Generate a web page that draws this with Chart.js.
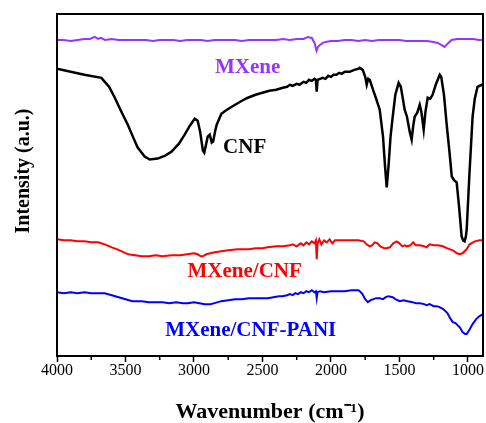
<!DOCTYPE html>
<html>
<head>
<meta charset="utf-8">
<script src="https://cdn.jsdelivr.net/npm/chart.js@4"></script>
<style>
  html, body { margin: 0; padding: 0; background: #fff; }
  #wrap { width: 486px; height: 423px; position: relative; }
</style>
</head>
<body>
<div id="wrap"><canvas id="chart"></canvas></div>
<script>
// FTIR spectra, values (arbitrary intensity units)
const mxeneWn = [4000,3950,3900,3850,3800,3760,3725,3700,3680,3650,3600,3550,3500,3450,3400,3350,3300,3250,3200,3150,3100,3050,3000,2950,2900,2850,2800,2750,2700,2650,2600,2550,2500,2450,2400,2350,2300,2250,2200,2168,2140,2120,2105,2095,2080,2060,2040,2000,1950,1900,1850,1800,1750,1700,1650,1600,1550,1500,1450,1400,1350,1300,1250,1220,1195,1170,1150,1120,1080,1040,1000,960,920,890];
const mxeneVal = [317,317,316,317,318,318,320,318,319,317,318,317,317,317,317,317,316,317,317,317,316,317,317,317,316,317,317,317,317,316,317,317,317,317,317,318,317,318,318,320,319,314,306,310,312,314,315,316,316,317,317,316,317,316,317,317,317,317,316,316,316,316,315,314,312,310,313,317,318,318,318,318,317,317];

const cnfWn = [4000,3900,3800,3676,3620,3578,3530,3483,3440,3411,3360,3323,3265,3210,3163,3110,3068,3030,2995,2973,2955,2935,2925,2912,2900,2885,2870,2860,2845,2834,2800,2760,2700,2650,2607,2550,2500,2450,2400,2352,2320,2300,2280,2250,2230,2200,2180,2160,2140,2120,2110,2104,2098,2080,2060,2040,2020,2000,1980,1960,1940,1920,1900,1863,1830,1800,1790,1768,1750,1739,1728,1717,1690,1670,1644,1620,1605,1593,1580,1565,1549,1530,1506,1490,1475,1462,1445,1425,1411,1400,1389,1370,1352,1340,1323,1310,1294,1275,1258,1235,1206,1195,1175,1155,1135,1118,1100,1082,1065,1046,1035,1024,1015,1009,990,966,950,930,900,890];
const cnfVal = [288,285,282,279,270,259,245,232,218,209,200,197,198,201,205,213,222,231,238,236,225,206,204,212,220,222,214,215,226,232,243,247,252,256,259,262,264,266,267,269,270,272,271,273,272,275,274,277,276,278,277,265,277,278,279,278,281,280,282,282,284,283,285,285,287,288,289,287,280,272,278,277,266,258,247,220,190,169,190,220,240,262,274,270,258,247,240,225,217,230,240,244,252,245,227,245,259,258,262,272,282,280,262,232,205,180,176,174,150,120,116,115,120,127,180,240,258,270,272,271];

const mcWn = [4000,3950,3900,3850,3800,3750,3700,3651,3600,3560,3527,3480,3430,3381,3330,3280,3230,3163,3100,3050,3000,2973,2950,2936,2910,2880,2849,2800,2750,2681,2600,2550,2500,2462,2400,2350,2300,2280,2250,2220,2200,2180,2160,2140,2120,2110,2104,2098,2085,2070,2050,2030,2010,1990,1970,1950,1900,1850,1800,1760,1740,1717,1700,1680,1660,1640,1610,1593,1570,1545,1520,1500,1480,1460,1447,1420,1400,1380,1350,1320,1301,1280,1250,1220,1184,1150,1110,1080,1060,1040,1010,988,950,915,890];
const mcVal = [117,116,116,115,115,114,114,112,109,107,105,102,101,100,100,101,100,101,101,102,103,102,100,100,102,103,104,105,106,107,107,108,108,109,110,110,111,112,110,113,111,114,112,115,113,116,97,113,117,112,116,114,117,113,116,116,116,116,116,115,112,110,111,114,113,110,108,108,109,113,115,113,110,111,110,111,114,111,111,110,109,112,111,111,110,108,106,103,102,103,107,112,115,116,116];

const mcpWn = [4000,3950,3900,3850,3800,3750,3700,3651,3600,3550,3500,3450,3400,3381,3330,3280,3230,3180,3130,3080,3045,3000,2960,2921,2880,2850,2800,2750,2700,2650,2600,2550,2500,2462,2420,2380,2353,2320,2300,2280,2260,2240,2220,2200,2180,2160,2140,2120,2110,2104,2098,2080,2050,2000,1950,1900,1850,1800,1790,1770,1750,1731,1710,1690,1670,1644,1620,1600,1580,1549,1530,1498,1470,1440,1404,1380,1350,1320,1301,1280,1250,1230,1206,1180,1150,1130,1111,1090,1070,1060,1040,1020,1009,990,966,940,915,890];
const mcpVal = [64,63,64,63,64,63,63,63,61,59,57,55,55,55,54,54,54,53,54,53,53,54,53,52,52,53,55,56,57,57,58,58,58,58,59,60,60,61,62,61,63,62,64,63,65,64,66,64,65,58,64,65,64,65,65,65,66,66,65,62,57,54,56,57,58,58,57,59,60,59,57,55,56,55,54,53,53,52,51,52,50,50,49,47,43,38,34,33,30,29,24,22,22,26,32,37,40,42];

const seriesNames = ['MXene', 'CNF', 'MXene/CNF', 'MXene/CNF-PANI'];
const seriesColors = ['#9933ff', '#000000', '#ff0000', '#0000ff'];
// label anchor in data units (wavenumber, intensity)
const labelWn = [2608, 2630, 2630, 2586];
const labelVal = [289, 209, 85, 25];

const xTickLabels = [4000, 3500, 3000, 2500, 2000, 1500, 1000];
const minorTicks = [3750, 3250, 2750, 2250, 1750, 1250];

const serif = '"Times New Roman", "Liberation Serif", serif';

const toPoints = (wn, val) => wn.map((w, i) => ({ x: w, y: val[i] }));
const allWn = [mxeneWn, cnfWn, mcWn, mcpWn];
const allVal = [mxeneVal, cnfVal, mcVal, mcpVal];

const datasets = seriesNames.map((name, i) => ({
  label: name,
  data: toPoints(allWn[i], allVal[i]),
  borderColor: seriesColors[i],
  backgroundColor: seriesColors[i],
  borderWidth: i === 1 ? 2.5 : 2,
  pointRadius: 0,
  tension: 0,
}));

const framePlugin = {
  id: 'frame',
  afterDatasetsDraw(chart) {
    const { ctx, chartArea: a, scales } = chart;
    ctx.save();
    ctx.strokeStyle = '#000';
    ctx.lineWidth = 2;
    ctx.strokeRect(a.left, a.top, a.right - a.left, a.bottom - a.top);
    // minor ticks
    ctx.lineWidth = 1.5;
    minorTicks.forEach(v => {
      const x = scales.x.getPixelForValue(v);
      ctx.beginPath();
      ctx.moveTo(x, a.bottom);
      ctx.lineTo(x, a.bottom + 4);
      ctx.stroke();
    });
    // series labels
    ctx.font = 'bold 21px ' + serif;
    ctx.textAlign = 'center';
    ctx.textBaseline = 'middle';
    seriesNames.forEach((name, i) => {
      ctx.fillStyle = seriesColors[i];
      ctx.fillText(name, scales.x.getPixelForValue(labelWn[i]), scales.y.getPixelForValue(labelVal[i]));
    });
    // y title
    ctx.fillStyle = '#000';
    ctx.font = 'bold 20px ' + serif;
    ctx.translate(24, 171);
    ctx.rotate(-Math.PI / 2);
    ctx.fillText('Intensity (a.u.)', 0, 0);
    ctx.restore();
  }
};

new Chart(document.getElementById('chart'), {
  type: 'line',
  data: { datasets },
  options: {
    responsive: true,
    maintainAspectRatio: false,
    animation: false,
    layout: { padding: { top: 14, right: 3, left: 0, bottom: 0 } },
    plugins: {
      legend: { display: false },
      tooltip: { enabled: false },
    },
    scales: {
      x: {
        type: 'linear',
        reverse: true,
        min: 890,
        max: 4000,
        border: { display: false },
        grid: {
          drawOnChartArea: false,
          drawTicks: true,
          tickLength: 6,
          tickWidth: 1.5,
          tickColor: '#000',
        },
        afterBuildTicks: (s) => { s.ticks = xTickLabels.map(v => ({ value: v })); },
        ticks: {
          autoSkip: false,
          maxRotation: 0,
          color: '#000',
          padding: -1,
          font: { family: serif, size: 16 },
          callback: (v) => String(v),
        },
        title: {
          display: true,
          text: 'Wavenumber (cm\u207B\u00B9)',
          color: '#000',
          font: { family: serif, size: 22, weight: 'bold', lineHeight: 1 },
          padding: { top: 0, bottom: 0 },
        },
        afterFit: (s) => { s.height = 67; },
      },
      y: {
        min: 0,
        max: 343,
        border: { display: false },
        grid: { display: false },
        ticks: { display: false },
        afterFit: (s) => { s.width = 57; },
      },
    },
  },
  plugins: [framePlugin],
});
</script>
</body>
</html>
